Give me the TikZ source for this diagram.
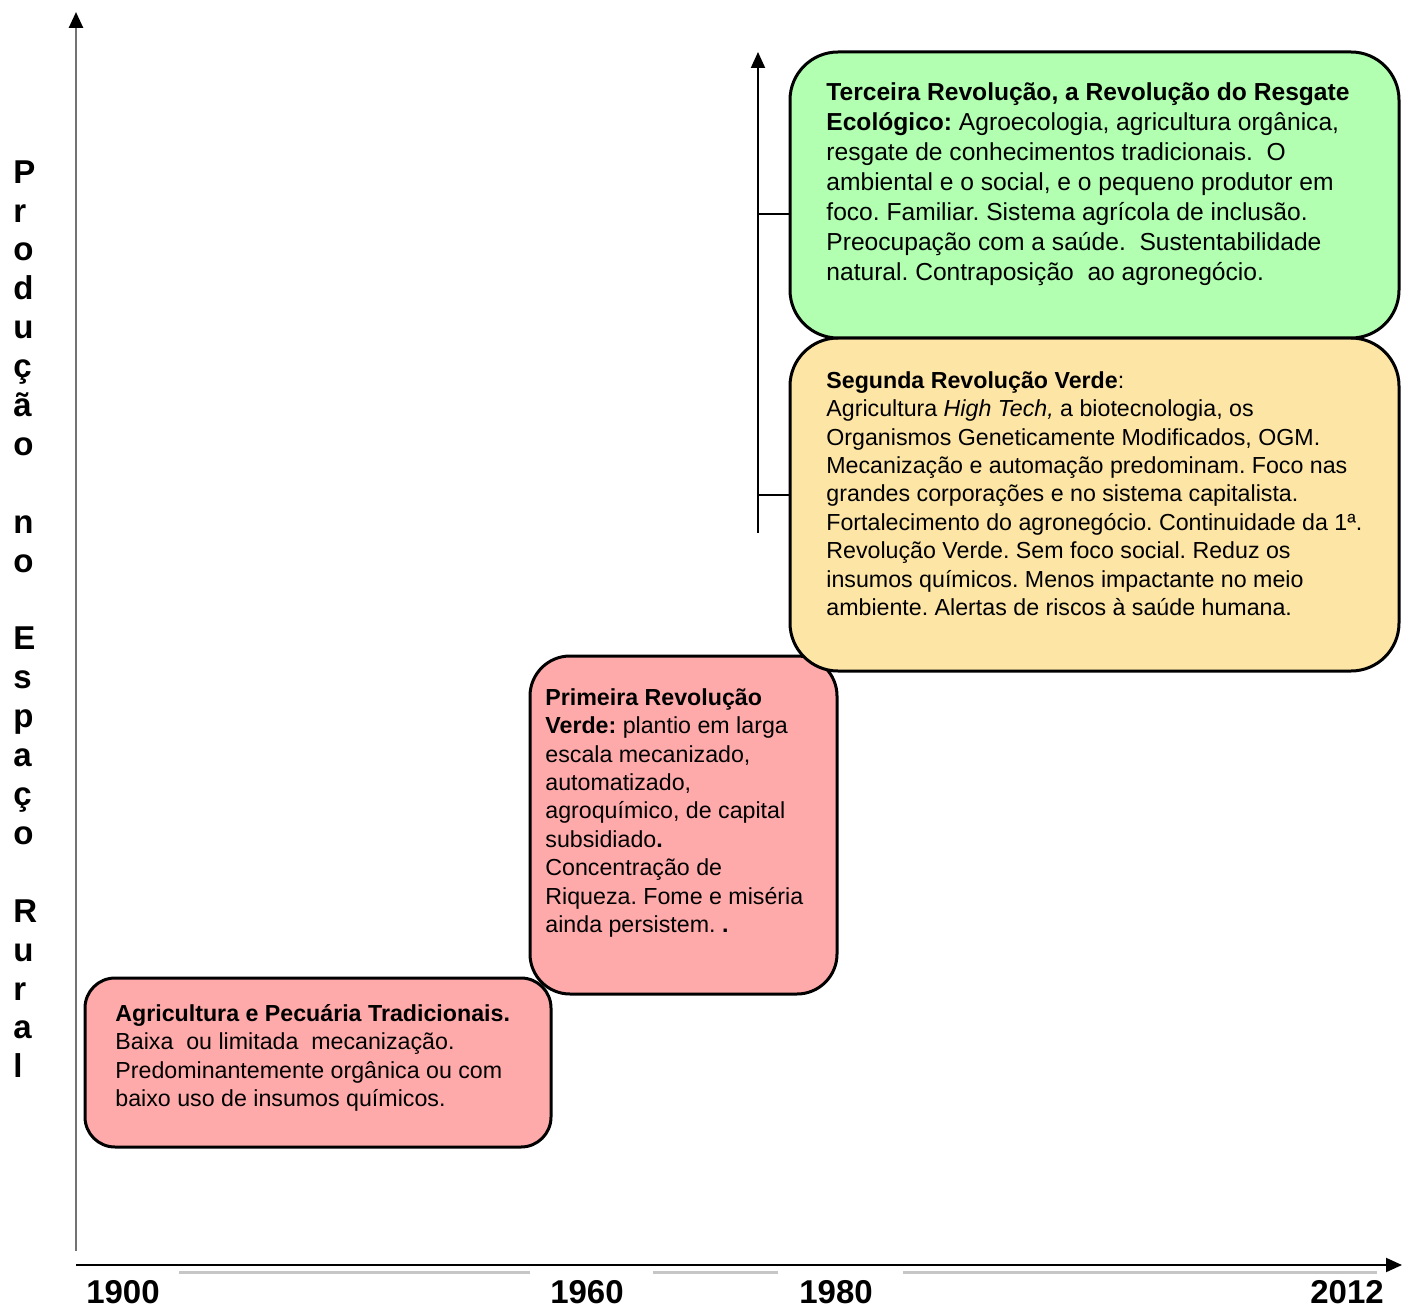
\documentclass[tikz,border=0pt]{standalone}
\usepackage{fontspec}
\setmainfont{Liberation Sans}
\usepackage{tikz}
\usepackage{xcolor}
\usetikzlibrary{arrows.meta, positioning}
\frenchspacing

\definecolor{rosa}{RGB}{255,170,170}
\definecolor{amarelo}{RGB}{253,229,166}
\definecolor{verde}{RGB}{178,255,178}

\begin{document}
\begin{tikzpicture}[x=0.5pt, y=-0.5pt, >={Triangle[length=8pt, width=7pt, color=black]},
  revbox/.style={draw, line width=1.5pt, inner sep=0pt},
  revtext/.style={anchor=north west, inner sep=0pt, align=left, font=\fontsize{11.6}{14.2}\selectfont},
  yearlbl/.style={inner sep=0pt, font=\fontsize{16.5}{18}\selectfont\bfseries},
  tick/.style={line width=1pt}]
  \useasboundingbox (0,0) rectangle (1402,1310);
  % axes
  \coordinate (yBot) at (76,1251); \coordinate (yTop) at (76,12);
  \coordinate (xBeg) at (76,1265); \coordinate (xEnd) at (1402,1265);
  \draw[->, black!55, line width=1.3pt] (yBot) -- (yTop);
  \draw[gray!45, line width=1.5pt] (179,1272) -- (530,1272);
  \draw[gray!45, line width=1.5pt] (653,1272) -- (778,1272);
  \draw[gray!45, line width=1.5pt] (903,1272) -- (1377,1272);
  \draw[->, line width=1pt] (xBeg) -- (xEnd);
  % vertical axis label
  \node[anchor=north west, inner sep=0pt, align=left, font=\fontsize{16.5}{19.45}\selectfont\bfseries] (prod) at (13,160)
    {P\\r\\o\\d\\u\\ç\\ã\\o\\ \\n\\o\\ \\E\\s\\p\\a\\ç\\o\\ \\R\\u\\r\\a\\l};
  % years
  \node[yearlbl] (y1900) at (123,1292) {1900};
  \node[yearlbl] (y1960) at (587,1292) {1960};
  \node[yearlbl] (y1980) at (836,1292) {1980};
  \node[yearlbl] (y2012) at (1347,1292) {2012};
  % boxes
  \node[revbox, fill=rosa, rounded corners=15pt, minimum width=233pt, minimum height=84.5pt] (trad) at (318,1062.5) {};
  \node[revbox, fill=rosa, rounded corners=20pt, minimum width=153.5pt, minimum height=169pt] (prim) at (683.5,825) {};
  \node[revbox, fill=amarelo, rounded corners=24pt, minimum width=304.5pt, minimum height=166.5pt] (segu) at (1094.5,504.5) {};
  \node[revbox, fill=verde, rounded corners=24pt, minimum width=304.5pt, minimum height=143pt] (terc) at (1094.5,195) {};
  % texts
  \node[revtext] (tradTxt) at (115,1004)
    {\textbf{Agricultura e Pecuária Tradicionais.}\\
     Baixa \ ou limitada \ mecanização.\\
     Predominantemente orgânica ou com\\
     baixo uso de insumos químicos.};
  \node[revtext] (primTxt) at (545,688)
    {\textbf{Primeira Revolução}\\
     \textbf{Verde:} plantio em larga\\
     escala mecanizado,\\
     automatizado,\\
     agroquímico, de capital\\
     subsidiado\textbf{.}\\
     Concentração de\\
     Riqueza. Fome e miséria\\
     ainda persistem. \textbf{.}};
  \node[revtext] (seguTxt) at (826,371)
    {\textbf{Segunda Revolução Verde}:\\
     Agricultura \textit{High Tech,} a biotecnologia, os\\
     Organismos Geneticamente Modificados, OGM.\\
     Mecanização e automação predominam. Foco nas\\
     grandes corporações e no sistema capitalista.\\
     Fortalecimento do agronegócio. Continuidade da 1ª.\\
     Revolução Verde. Sem foco social. Reduz os\\
     insumos químicos. Menos impactante no meio\\
     ambiente. Alertas de riscos à saúde humana.};
  \node[revtext, font=\fontsize{12.3}{15}\selectfont] (tercTxt) at (826,82)
    {\textbf{Terceira Revolução, a Revolução do Resgate}\\
     \textbf{Ecológico:} Agroecologia, agricultura orgânica,\\
     resgate de conhecimentos tradicionais. \ O\\
     ambiental e o social, e o pequeno produtor em\\
     foco. Familiar. Sistema agrícola de inclusão.\\
     Preocupação com a saúde. \ Sustentabilidade\\
     natural. Contraposição \ ao agronegócio.};
  % inner arrow with ticks
  \coordinate (arBot) at (758,533); \coordinate (arTop) at (758,52);
  \draw[->, line width=1pt] (arBot) -- (arTop);
  \coordinate (tkTerc) at (758,214); \coordinate (tkSegu) at (758,495);
  \draw[tick] (tkTerc) -- (tkTerc -| terc.west);
  \draw[tick] (tkSegu) -- (tkSegu -| segu.west);
\end{tikzpicture}
\end{document}
